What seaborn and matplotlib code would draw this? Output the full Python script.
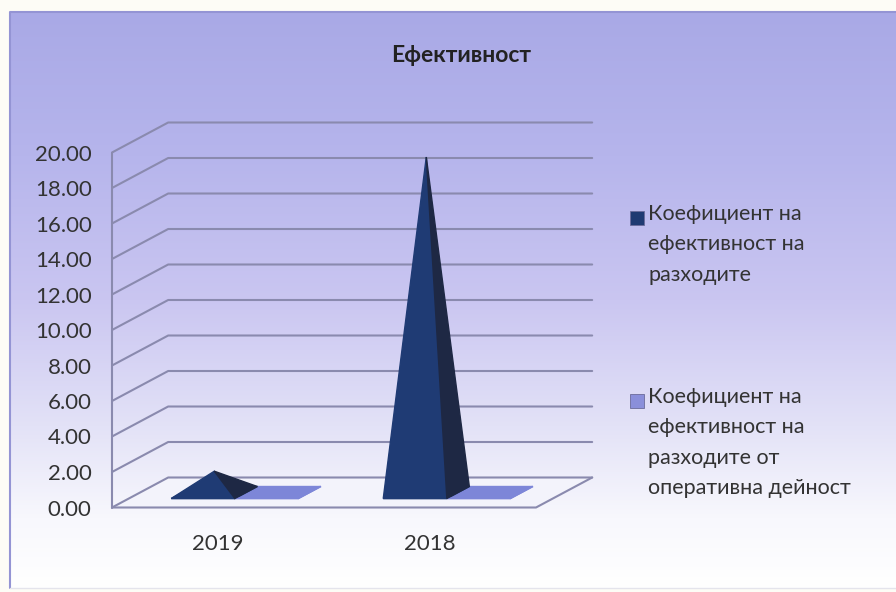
import numpy as np
import matplotlib
matplotlib.use("Agg")
import matplotlib.pyplot as plt
from matplotlib.colors import LinearSegmentedColormap
from matplotlib.patches import Rectangle
import seaborn as sns

# data
years = ["2019", "2018"]
series_names = ["Коефициент на\nефективност на\nразходите",
                "Коефициент на\nефективност на\nразходите от\nоперативна дейност"]
coef_costs = [1.2, 18.9]
coef_operating = [0.1, 0.1]
yticks = [0, 2, 4, 6, 8, 10, 12, 14, 16, 18, 20]
title = "Ефективност"

sns.set_theme(style="white")
plt.rcParams["font.family"] = ["Lato", "DejaVu Sans"]

W, H = 896, 592
fig = plt.figure(figsize=(W / 100, H / 100), dpi=100)
fig.patch.set_facecolor("#fdfcf6")

# background panel with gradient (pixel coords)
bg = fig.add_axes([0, 0, 1, 1], zorder=-5)
bg.set_xlim(0, W)
bg.set_ylim(H, 0)
bg.axis("off")
cmap = LinearSegmentedColormap.from_list(
    "bg", [(0, "#a9a9e6"), (0.25, "#b6b5ec"), (0.5, "#cac6f1"),
           (0.72, "#e3e2f7"), (0.88, "#f8f8fd"), (1, "#ffffff")])
grad = np.linspace(0, 1, 256).reshape(-1, 1)
bg.imshow(grad, cmap=cmap, extent=[10, W, 588, 12], aspect="auto")
bg.plot([10, 10, W], [588, 12, 12], color="#9494d4", lw=1.5)
bg.plot([10, W], [588, 588], color="#e4e4ec", lw=1)

bg.text(461, 55, title, ha="center", va="center", fontsize=16.5,
        fontweight="bold", color="#222222")

# legend drawn by hand
leg_colors = ["#1f3a72", "#8a8fda"]
leg_y = [204, 387]
for name, col, y in zip(series_names, leg_colors, leg_y):
    bg.add_patch(Rectangle((630, y + 7), 14, 14, facecolor=col,
                           edgecolor="#6b6b9a", lw=0.6))
    bg.text(648, y, name, ha="left", va="top", fontsize=15.5,
            color="#333333", linespacing=1.65)

# main plot: x in category units, y in value units
px_per_cat = 212.0
px_per_val = 17.75
x0_px, v0_px = 218.0, 507.5
xlim = (-0.557, 2.0)
ylim = (-1.0, 24.0)
left = (x0_px + px_per_cat * xlim[0]) / W
right = (x0_px + px_per_cat * xlim[1]) / W
bottom = (H - (v0_px - px_per_val * ylim[0])) / H
top = (H - (v0_px - px_per_val * ylim[1])) / H
ax = fig.add_axes([left, bottom, right - left, top - bottom])
ax.set_xlim(*xlim)
ax.set_ylim(*ylim)
ax.patch.set_visible(False)
for s in ax.spines.values():
    s.set_visible(False)

DX, DY = 0.265, 1.69   # depth offset of the 3D box
grid_col = "#8a8aae"
xl, xr = -0.5, 1.5

# floor
ax.fill([xl, xr, xr + DX, xl + DX], [0, 0, DY, DY], color="#f3f3fb", zorder=1)
ax.plot([xl, xr, xr + DX], [0, 0, DY], color=grid_col, lw=1.5, zorder=2)
# wall + gridlines
for t in yticks:
    ax.plot([xl, xl + DX, xr + DX], [t, t + DY, t + DY], color=grid_col,
            lw=1.5, zorder=2)
ax.plot([xl, xl], [0, yticks[-1]], color=grid_col, lw=1.5, zorder=2)


def P(x, v, d):
    return x + d * DX, v + d * DY


def pyramid(cx, w, val, front, side, d0=0.3, d1=0.7):
    fl = P(cx - w / 2, 0, d0)
    fr = P(cx + w / 2, 0, d0)
    br = P(cx + w / 2, 0, d1)
    bl = P(cx - w / 2, 0, d1)
    apex = P(cx, val, (d0 + d1) / 2)
    ax.fill(*zip(fl, fr, br, bl), color=front, zorder=3)
    ax.fill(*zip(fl, fr, apex), color=front, zorder=4)
    ax.fill(*zip(fr, br, apex), color=side, zorder=4)


w = 0.3
for i in range(len(years)):
    pyramid(i + 0.15, w, coef_operating[i], "#7d86d8", "#7d86d8")
for i in range(len(years)):
    pyramid(i - 0.15, w, coef_costs[i], "#1f3b74", "#1e2844")

ax.set_yticks(yticks, [f"{t:.2f}" for t in yticks])
ax.set_xticks(range(len(years)), years)
ax.tick_params(axis="y", length=0, pad=6, labelsize=16, labelcolor="#333333")
ax.tick_params(axis="x", length=0, pad=6, labelsize=16, labelcolor="#333333")
ax.grid(False)

fig.savefig("out.png", dpi=100, facecolor=fig.get_facecolor())
